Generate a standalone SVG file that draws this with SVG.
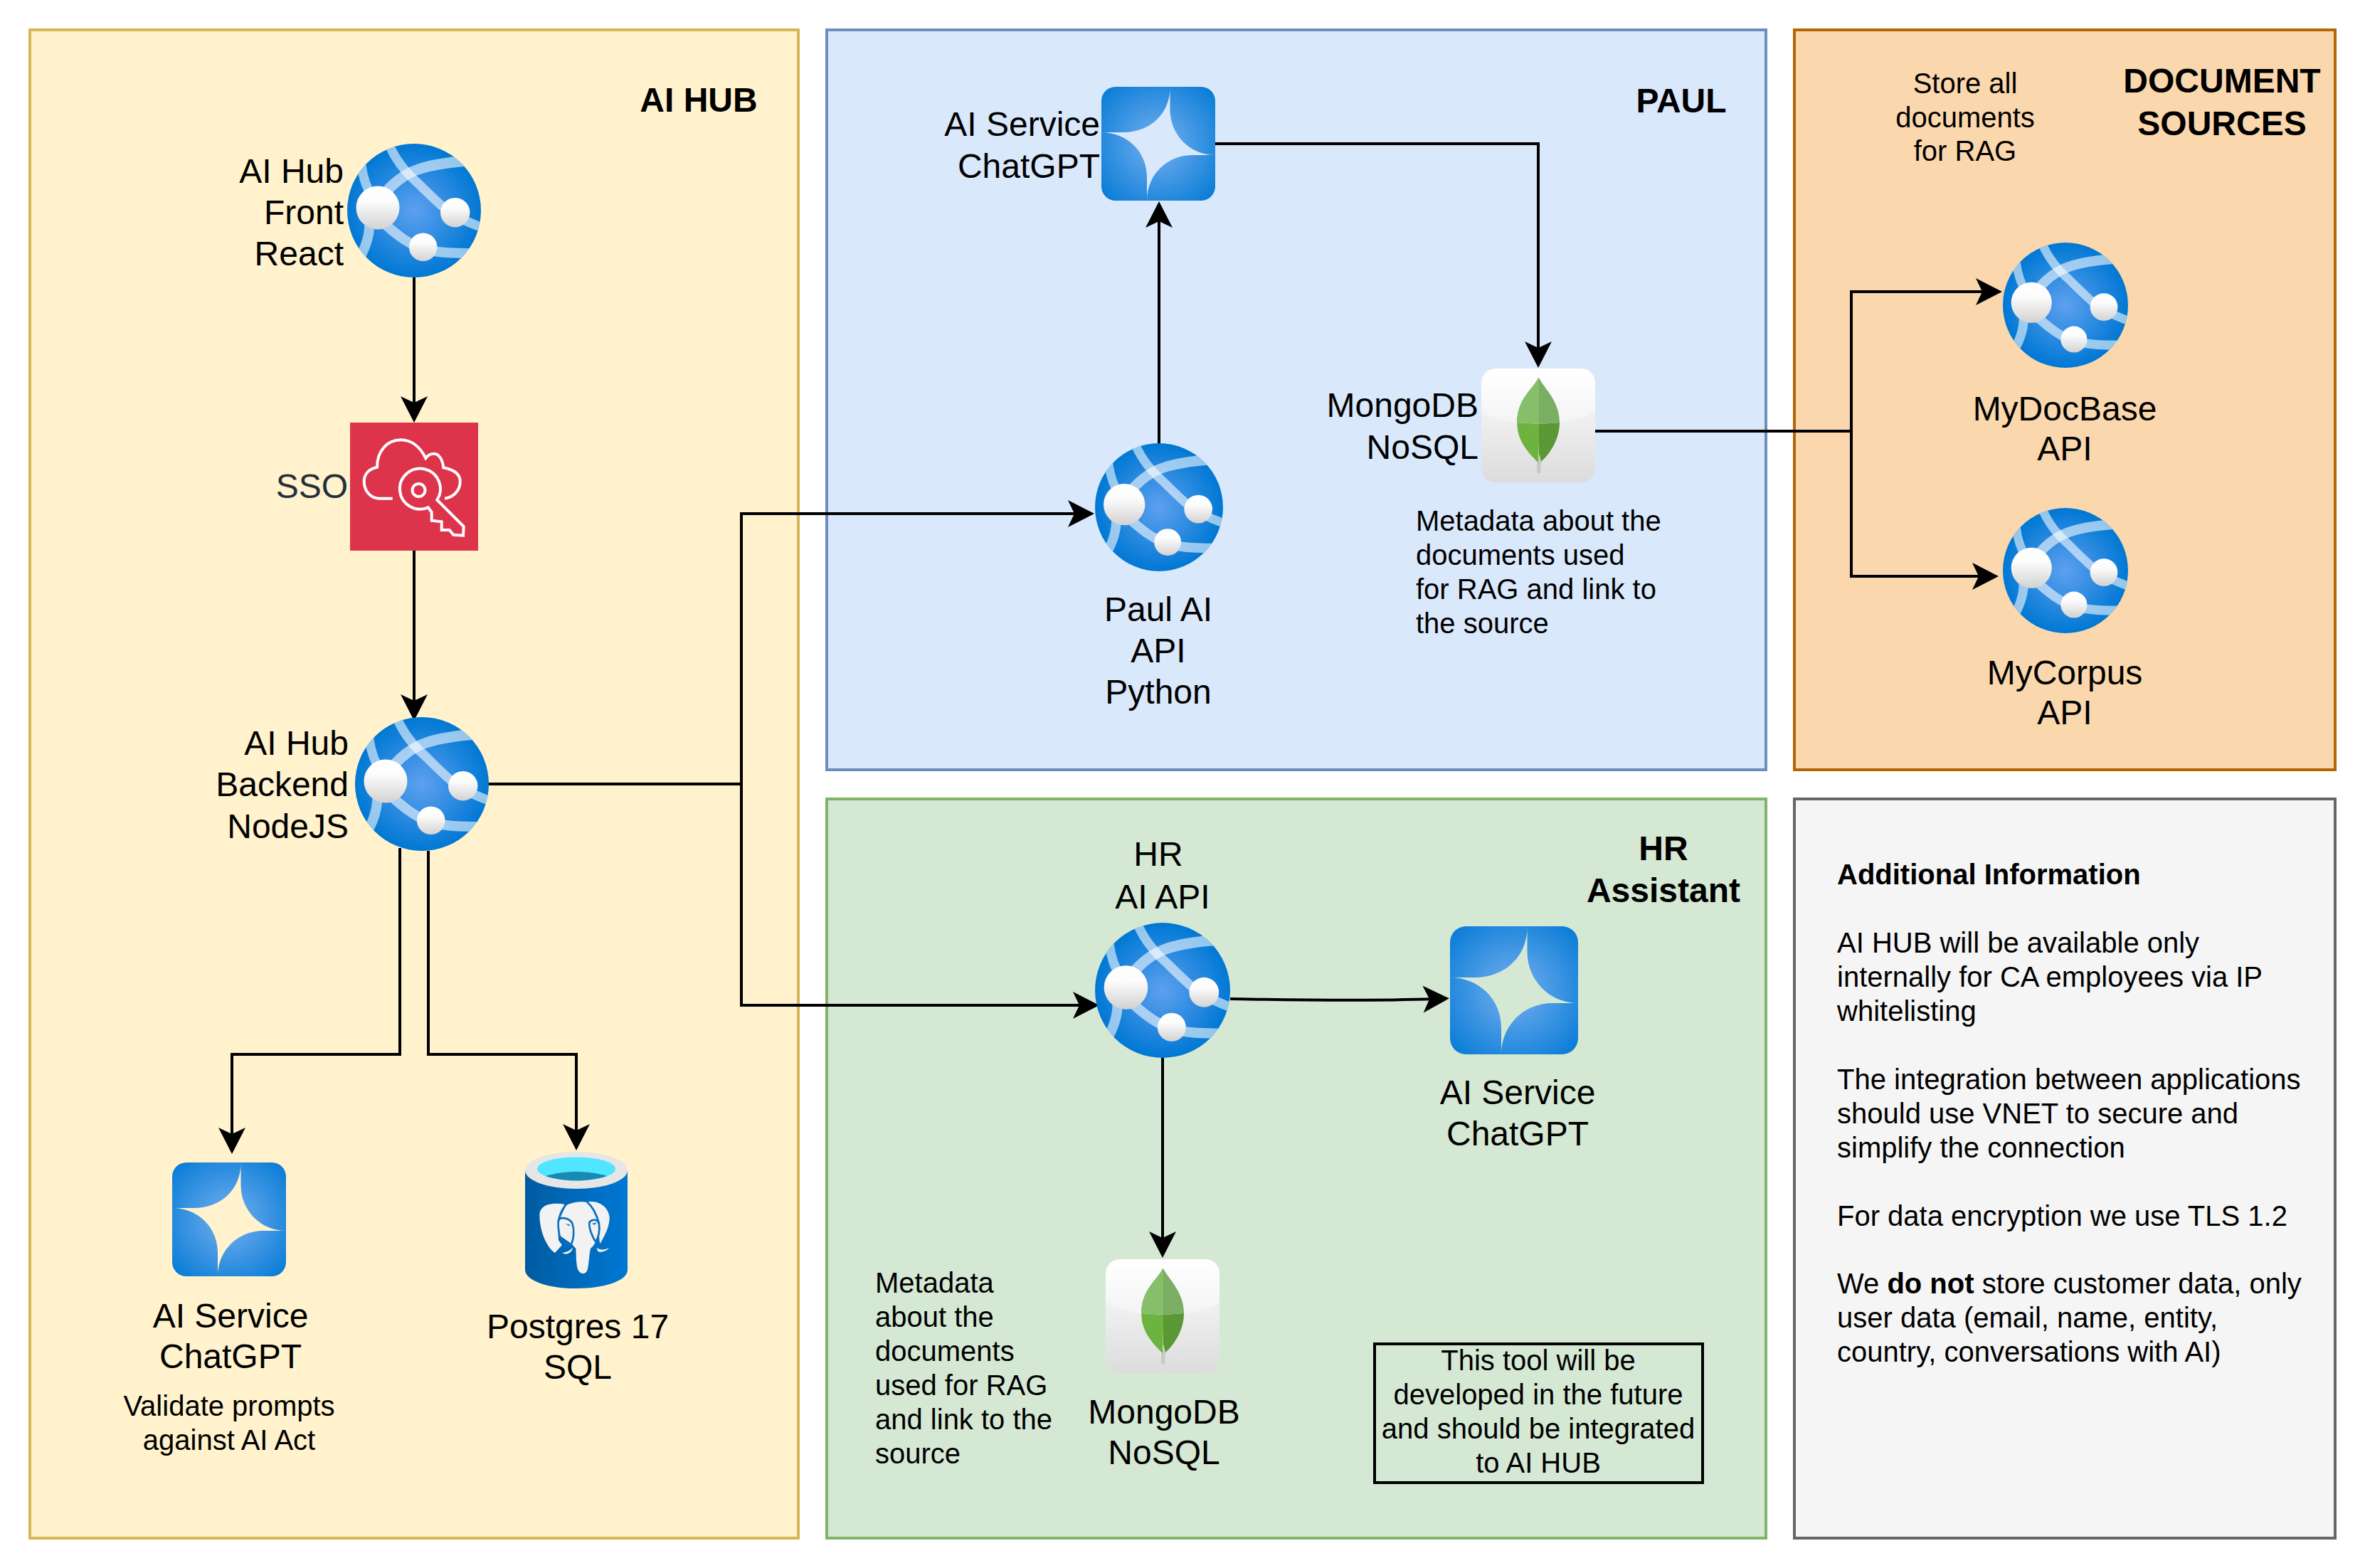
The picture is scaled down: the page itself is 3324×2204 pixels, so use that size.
<svg xmlns="http://www.w3.org/2000/svg" width="3324" height="2204" viewBox="0 0 3324 2204">
<style>
text{font-family:"Liberation Sans",Arial,sans-serif;fill:#000}
.l{font-size:48px}.s{font-size:40px}.b{font-weight:700}
.e{text-anchor:end}.m{text-anchor:middle}
.area{stroke-width:4}
.c{fill:none;stroke:#000;stroke-width:4;marker-end:url(#arrow)}
.p{fill:none;stroke:#000;stroke-width:4}
.band{fill:none;stroke:#fff;stroke-opacity:.58}
</style>
<defs>
<marker id="arrow" markerUnits="userSpaceOnUse" markerWidth="38" markerHeight="40" viewBox="0 0 38 40" refX="17" refY="20" orient="auto">
<path d="M0 1L37 20L0 39L9 20Z" fill="#000"/>
</marker>
<radialGradient id="gWeb" cx=".5" cy=".5" r=".5"><stop offset="0" stop-color="#5ea0ef"/><stop offset="1" stop-color="#0078d4"/></radialGradient>
<linearGradient id="gSph" x1="0" y1="0" x2="0" y2="1"><stop offset="0" stop-color="#fff"/><stop offset=".35" stop-color="#fcfcfc"/><stop offset="1" stop-color="#d2d2d2"/></linearGradient>
<radialGradient id="gStar" cx=".5" cy=".5" r=".72"><stop offset="0" stop-color="#76b0f0"/><stop offset="1" stop-color="#0078d4"/></radialGradient>
<linearGradient id="gMongo" x1="0" y1="0" x2="0" y2="1"><stop offset="0" stop-color="#fff"/><stop offset="1" stop-color="#dcdcdc"/></linearGradient>
<linearGradient id="gCyl" x1="0" y1="0" x2="1" y2="0"><stop offset="0" stop-color="#005ba1"/><stop offset="1" stop-color="#0078d4"/></linearGradient>
<clipPath id="cWeb"><circle r="94"/></clipPath>
<g id="web">
<circle r="94" fill="url(#gWeb)"/>
<g clip-path="url(#cWeb)">
<path class="band" stroke-width="13" d="M-34-90C-24-68-8-50 6-38C20-24 38-6 52 4C66 12 80 18 96 24"/>
<path class="band" stroke-width="15" d="M-48-16C-36-32-18-50 6-58C26-65 50-68 76-70"/>
<path class="band" stroke-width="13" d="M-74-64C-72-48-66-30-58-18"/>
<path class="band" stroke-width="14" d="M-64 10C-60 30-68 50-74 62"/>
<path class="band" stroke-width="14" d="M-40 20C-22 36-6 48 14 54C36 60 60 60 84 60"/>
</g>
<circle cx="-51" cy="-4" r="30.5" fill="url(#gSph)"/>
<circle cx="57.7" cy="2.7" r="20.7" fill="url(#gSph)"/>
<circle cx="12.7" cy="51.3" r="19.8" fill="url(#gSph)"/>
</g>
<g id="star">
<path fill="url(#gStar)" fill-rule="evenodd" d="M20 0H140A20 20 0 0 1 160 20V140A20 20 0 0 1 140 160H20A20 20 0 0 1 0 140V20A20 20 0 0 1 20 0ZM96.500 0C97 37 69 64 31 64H0C35 64 64 90 64 127V160C64 124 92 96 128 96H160C125 96 96.500 68 96.500 32Z"/>
</g>
<g id="mongo">
<rect width="160" height="160" rx="20" fill="url(#gMongo)"/>
<path d="M0 60C40 85 120 85 160 60V20A20 20 0 0 0 140 0H20A20 20 0 0 0 0 20Z" fill="#fff" fill-opacity=".35"/>
<path d="M78 132L78.500 147L83 147L84 132L81 125Z" fill="#c8c8c8"/>
<path d="M80 13C74 28 50 42 50.300 76L81 78V100L80 132C62 115 50 98 50.300 76Z" fill="#6cb33f"/>
<path d="M80 13C74 28 50 42 50.300 76L81 78V13Z" fill="#86be6a"/>
<path d="M81 78L110 76C110 100 96 120 84 131L81 120Z" fill="#5a9836"/>
<path d="M81 13C88 28 110 45 110 76L81 78Z" fill="#7aae62"/>
</g>
</defs>
<rect width="3324" height="2204" fill="#fff"/>

<g id="areas">
<rect class="area" x="42" y="42" width="1080" height="2120" fill="#fff2cc" stroke="#d6b656"/>
<rect class="area" x="1162" y="42" width="1320" height="1040" fill="#dae8fc" stroke="#6c8ebf"/>
<rect class="area" x="2522" y="42" width="760" height="1040" fill="#fad7ac" stroke="#b46504"/>
<rect class="area" x="1162" y="1123" width="1320" height="1039" fill="#d5e8d4" stroke="#82b366"/>
<rect class="area" x="2522" y="1123" width="760" height="1039" fill="#f5f5f5" stroke="#666"/>
<text class="l b m" x="982" y="157">AI HUB</text>
<text class="l b m" x="2363" y="158">PAUL</text>
<text class="l b m" x="3123" y="130">DOCUMENT</text>
<text class="l b m" x="3123" y="190">SOURCES</text>
<text class="l b m" x="2338" y="1209">HR</text>
<text class="l b m" x="2338" y="1268">Assistant</text>
</g>

<g id="connectors">
<path class="c" d="M582 390V574"/>
<path class="c" d="M582 774V993"/>
<path class="p" d="M687 1102H1042"/>
<path class="c" d="M1042 1102V722H1518"/>
<path class="c" d="M1042 1102V1413H1525"/>
<path class="c" d="M562 1192V1482H326V1602"/>
<path class="c" d="M602 1196V1482H810V1597"/>
<path class="c" d="M1629 623V303"/>
<path class="c" d="M1708 202H2162V497"/>
<path class="p" d="M2242 606H2602"/>
<path class="c" d="M2602 606V410H2794"/>
<path class="c" d="M2602 606V810H2789"/>
<path class="c" d="M1729 1404C1800 1405 1900 1408 2017 1404"/>
<path class="c" d="M1634 1487V1748"/>
</g>

<g id="ai-hub-front">
<use href="#web" transform="translate(582 296)"/>
<text class="l e" x="483" y="257">AI Hub</text>
<text class="l e" x="483" y="315">Front</text>
<text class="l e" x="483" y="373">React</text>
</g>

<g id="sso">
<rect x="492" y="594" width="180" height="180" fill="#dd344c"/>
<g transform="translate(492 594)" fill="none" stroke="#fff" stroke-width="4">
<path d="M59.700 106.700H41.300C28 106.700 19.700 95 19.700 82.700C19.700 72 27 65 38 62.700C38 40 52 24.300 71.300 24.300C87 24.300 99 35 106.300 50C110 45 114 43.700 118 43.700C125 43.700 130 52 131.300 63.300C145 66 154.700 72 154.700 82.700C154.700 95 146 105 133 106.700"/>
<circle cx="96.500" cy="95" r="9"/>
<path d="M109.700 119.300A28.500 28.500 0 1 1 122.300 108.700L159.700 146L159 158.700L145.300 157.700L139.700 151H128.700V139.300L114.700 137.700V126Z"/>
</g>
<text class="l e" x="489" y="700" style="fill:#232f3e">SSO</text>
</g>

<g id="ai-hub-backend">
<use href="#web" transform="translate(593 1102)"/>
<text class="l e" x="490" y="1061">AI Hub</text>
<text class="l e" x="490" y="1119">Backend</text>
<text class="l e" x="490" y="1178">NodeJS</text>
</g>

<g id="ai-service-hub">
<use href="#star" x="242" y="1634"/>
<text class="l m" x="324" y="1866">AI Service</text>
<text class="l m" x="324" y="1923">ChatGPT</text>
<text class="s m" x="322" y="1990">Validate prompts</text>
<text class="s m" x="322" y="2038">against AI Act</text>
</g>

<g id="postgres">
<path d="M738 1645V1785C738 1800 770 1811 810 1811C850 1811 882 1800 882 1785V1645Z" fill="url(#gCyl)"/>
<ellipse cx="810" cy="1645" rx="72" ry="26" fill="#e6e6e6"/>
<ellipse cx="810" cy="1643" rx="55" ry="16.500" fill="#50e6ff"/>
<path d="M767 1653C780 1649 795 1647 810 1647C825 1647 840 1649 853 1653C842 1657 826 1659.500 810 1659.500C794 1659.500 778 1657 767 1653Z" fill="#198ab3"/>
<g transform="translate(750 1680) scale(.3333)">
<path d="M25 80C28 50 55 28 130 38C115 70 100 110 105 190L120 210L90 243C60 225 25 160 25 80Z" fill="#f2f2f2"/>
<path d="M225 28C260 22 310 35 320 90C322 130 300 170 280 205C272 160 280 90 225 28Z" fill="#f2f2f2"/>
<path d="M135 45C160 28 205 25 225 30C255 60 270 110 275 150C272 180 262 205 240 225C232 260 235 290 225 320C215 335 195 335 185 310C178 280 180 250 178 225L160 205L110 170L105 110Z" fill="#f2f2f2"/>
<path d="M118 243C135 242 155 235 165 220C165 235 150 248 135 248Z" fill="#f2f2f2"/>
<path d="M265 222C280 232 300 232 318 222C308 236 285 242 272 238Z" fill="#f2f2f2"/>
<path d="M105 105C110 90 150 95 163 118C172 145 170 180 160 205C145 212 115 195 108 165C104 140 102 120 105 105Z" fill="none" stroke="#0b6fc0" stroke-width="8"/>
<path d="M235 115C245 100 270 100 276 120C280 150 272 180 262 197C250 180 232 140 235 115Z" fill="none" stroke="#0b6fc0" stroke-width="8"/>
<path d="M135 42C120 60 108 85 105 110" fill="none" stroke="#0b6fc0" stroke-width="8"/>
<path d="M225 28C250 50 266 80 276 120" fill="none" stroke="#0b6fc0" stroke-width="8"/>
<path d="M135 120L155 125L148 130Z M245 120L265 115L258 125Z" fill="#0b6fc0"/>
</g>
<text class="l m" x="812" y="1881">Postgres 17</text>
<text class="l m" x="812" y="1938">SQL</text>
</g>

<g id="ai-service-paul">
<use href="#star" x="1548" y="122"/>
<text class="l e" x="1546" y="191">AI Service</text>
<text class="l e" x="1546" y="250">ChatGPT</text>
</g>

<g id="paul-ai-api">
<use href="#web" transform="translate(1629 713) scale(.957)"/>
<text class="l m" x="1628" y="873">Paul AI</text>
<text class="l m" x="1628" y="931">API</text>
<text class="l m" x="1628" y="989">Python</text>
</g>

<g id="mongodb-paul">
<use href="#mongo" x="2082" y="518"/>
<text class="l e" x="2078" y="586">MongoDB</text>
<text class="l e" x="2078" y="645">NoSQL</text>
<text class="s" x="1990" y="746">Metadata about the</text>
<text class="s" x="1990" y="794">documents used</text>
<text class="s" x="1990" y="842">for RAG and link to</text>
<text class="s" x="1990" y="890">the source</text>
</g>

<g id="doc-note">
<text class="s m" x="2762" y="131">Store all</text>
<text class="s m" x="2762" y="179">documents</text>
<text class="s m" x="2762" y="226">for RAG</text>
</g>

<g id="mydocbase-api">
<use href="#web" transform="translate(2903 429) scale(.936)"/>
<text class="l m" x="2902" y="591">MyDocBase</text>
<text class="l m" x="2902" y="647">API</text>
</g>

<g id="mycorpus-api">
<use href="#web" transform="translate(2903 802) scale(.936)"/>
<text class="l m" x="2902" y="962">MyCorpus</text>
<text class="l m" x="2902" y="1018">API</text>
</g>

<g id="hr-ai-api">
<use href="#web" transform="translate(1634 1392) scale(1.01)"/>
<text class="l m" x="1628" y="1217">HR</text>
<text class="l m" x="1634" y="1277">AI API</text>
</g>

<g id="ai-service-hr">
<use href="#star" transform="translate(2038 1302) scale(1.125)"/>
<text class="l m" x="2133" y="1552">AI Service</text>
<text class="l m" x="2133" y="1610">ChatGPT</text>
</g>

<g id="mongodb-hr">
<use href="#mongo" x="1554" y="1770"/>
<text class="l m" x="1636" y="2001">MongoDB</text>
<text class="l m" x="1636" y="2058">NoSQL</text>
<text class="s" x="1230" y="1817">Metadata</text>
<text class="s" x="1230" y="1865">about the</text>
<text class="s" x="1230" y="1913">documents</text>
<text class="s" x="1230" y="1961">used for RAG</text>
<text class="s" x="1230" y="2009">and link to the</text>
<text class="s" x="1230" y="2057">source</text>
</g>

<g id="future-note">
<rect x="1932" y="1889" width="461" height="195" fill="none" stroke="#000" stroke-width="4"/>
<text class="s m" x="2162" y="1926">This tool will be</text>
<text class="s m" x="2162" y="1974">developed in the future</text>
<text class="s m" x="2162" y="2022">and should be integrated</text>
<text class="s m" x="2162" y="2070">to AI HUB</text>
</g>

<g id="additional-information">
<text class="s b" x="2582" y="1243">Additional Information</text>
<text class="s" x="2582" y="1339">AI HUB will be available only</text>
<text class="s" x="2582" y="1387">internally for CA employees via IP</text>
<text class="s" x="2582" y="1435">whitelisting</text>
<text class="s" x="2582" y="1531">The integration between applications</text>
<text class="s" x="2582" y="1579">should use VNET to secure and</text>
<text class="s" x="2582" y="1627">simplify the connection</text>
<text class="s" x="2582" y="1723">For data encryption we use TLS 1.2</text>
<text class="s" x="2582" y="1818">We <tspan class="b">do not</tspan> store customer data, only</text>
<text class="s" x="2582" y="1866">user data (email, name, entity,</text>
<text class="s" x="2582" y="1914">country, conversations with AI)</text>
</g>
</svg>
